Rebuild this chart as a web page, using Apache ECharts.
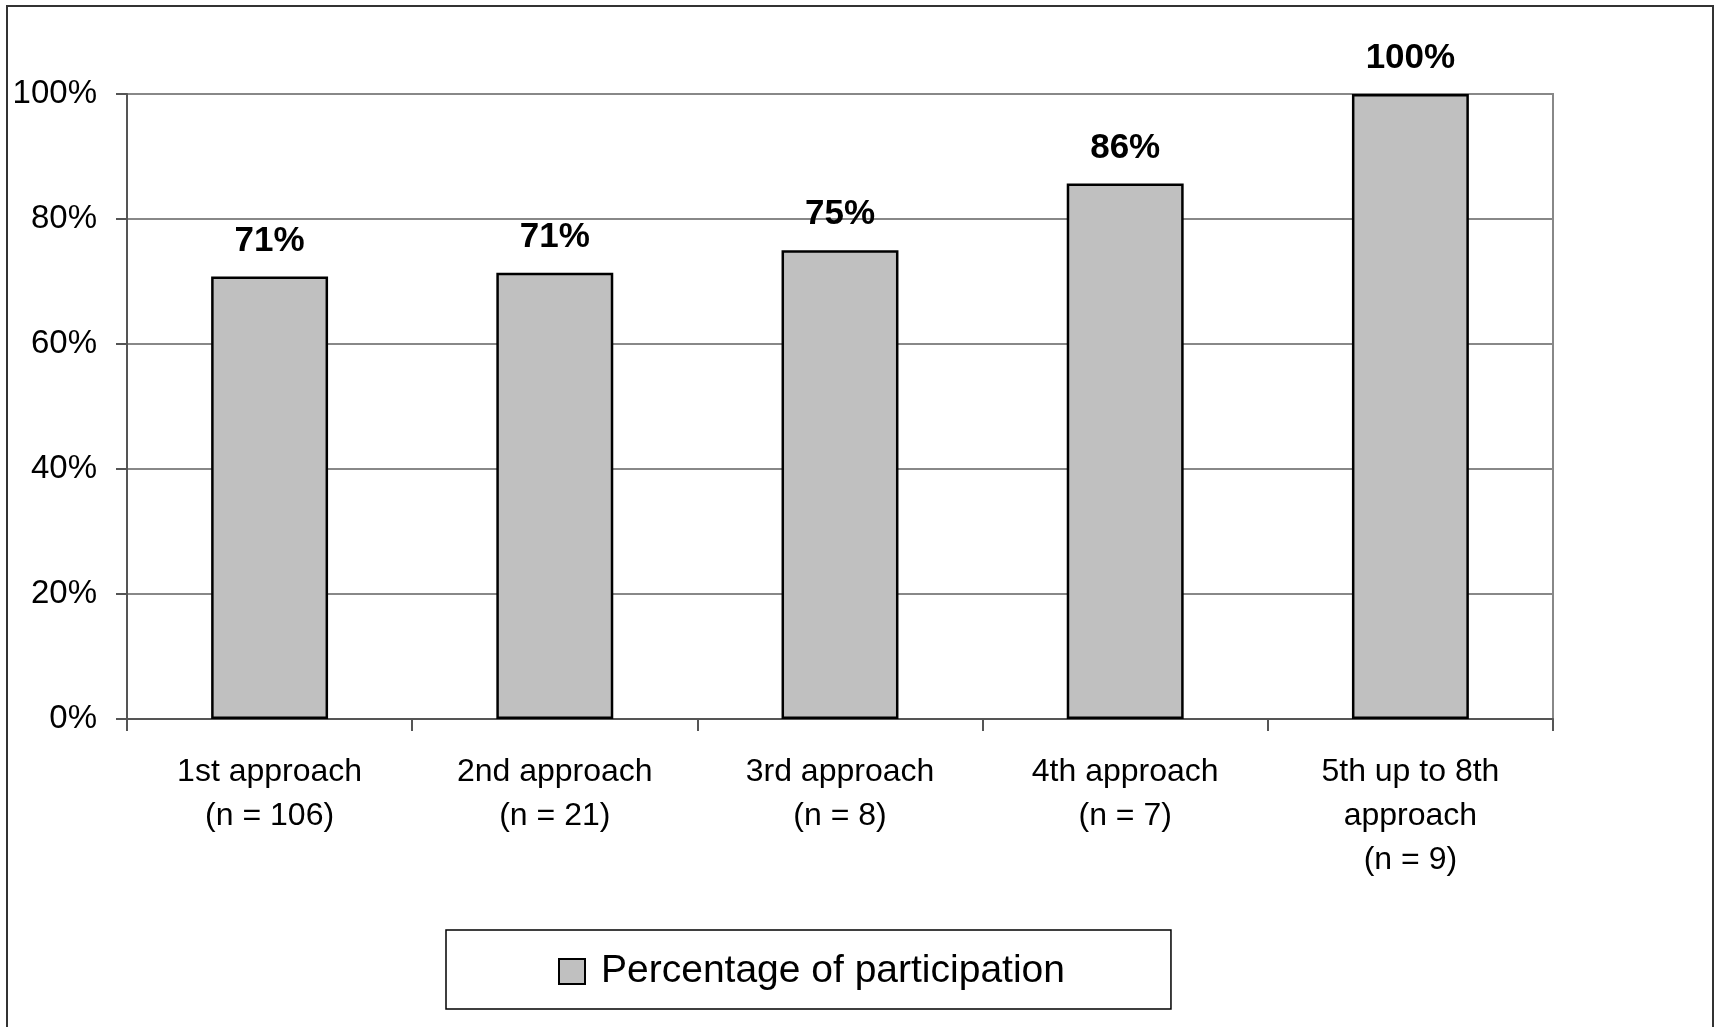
<!DOCTYPE html>
<html>
<head>
<meta charset="utf-8">
<script src="https://cdn.jsdelivr.net/npm/echarts@6/dist/echarts.min.js"></script>
<style>
html,body{margin:0;padding:0;background:#fff;}
#chart{width:1717px;height:1027px;}
</style>
</head>
<body>
<div id="chart"></div>
<script>
var categories = ['1st approach\n(n = 106)', '2nd approach\n(n = 21)', '3rd approach\n(n = 8)', '4th approach\n(n = 7)', '5th up to 8th\napproach\n(n = 9)'];
var participation = [70.8, 71.4, 75.0, 85.7, 100.0];
var seriesName = 'Percentage of participation';
var yTicks = [0, 20, 40, 60, 80, 100];

var FONT = '"Liberation Sans", Arial, sans-serif';
var chart = echarts.init(document.getElementById('chart'), null, {renderer: 'canvas'});
chart.setOption({
  backgroundColor: '#fff',
  animation: false,
  textStyle: {fontFamily: FONT},
  graphic: [{
    type: 'rect',
    shape: {x: 7, y: 6, width: 1706, height: 1040},
    style: {fill: 'none', stroke: '#333', lineWidth: 2},
    silent: true, z: -1
  }],
  grid: {
    left: 127, right: 164, top: 94, bottom: 308,
    containLabel: false, outerBoundsMode: 'none',
    show: true, borderColor: '#888', borderWidth: 2, backgroundColor: 'transparent'
  },
  legend: {
    data: [seriesName],
    left: 446, top: 930,
    padding: [22, 106, 18, 112],
    borderColor: '#000', borderWidth: 1.5,
    itemWidth: 26, itemHeight: 25, itemGap: 0,
    icon: 'rect',
    itemStyle: {color: '#c0c0c0', borderColor: '#000', borderWidth: 2},
    textStyle: {fontSize: 39, color: '#000', fontFamily: FONT, padding: [0, 0, 0, 11]},
    selectedMode: false
  },
  xAxis: {
    type: 'category',
    data: categories,
    boundaryGap: true,
    axisLine: {show: true, lineStyle: {color: '#555', width: 2}},
    axisTick: {show: true, length: 12, inside: false, alignWithLabel: false, lineStyle: {color: '#555', width: 2}},
    axisLabel: {fontSize: 32, color: '#000', lineHeight: 44, margin: 31, interval: 0, fontFamily: FONT},
    splitLine: {show: false}
  },
  yAxis: {
    type: 'value',
    min: 0, max: 100, interval: 20,
    axisLine: {show: true, lineStyle: {color: '#555', width: 2}},
    axisTick: {show: true, length: 11, inside: false, lineStyle: {color: '#555', width: 2}},
    axisLabel: {fontSize: 33, color: '#000', margin: 30, fontFamily: FONT,
      formatter: function (v) { return yTicks.indexOf(v) >= 0 ? v + '%' : ''; }},
    splitLine: {show: true, lineStyle: {color: '#888', width: 2}}
  },
  series: [{
    name: seriesName,
    type: 'bar',
    data: participation,
    barWidth: '41%',
    itemStyle: {color: '#c0c0c0', borderColor: '#000', borderWidth: 2.5},
    label: {
      show: true, position: 'top', distance: 18,
      fontSize: 35, fontWeight: 'bold', color: '#000', fontFamily: FONT,
      formatter: function (p) { return Math.round(p.value) + '%'; }
    }
  }]
});
</script>
</body>
</html>
